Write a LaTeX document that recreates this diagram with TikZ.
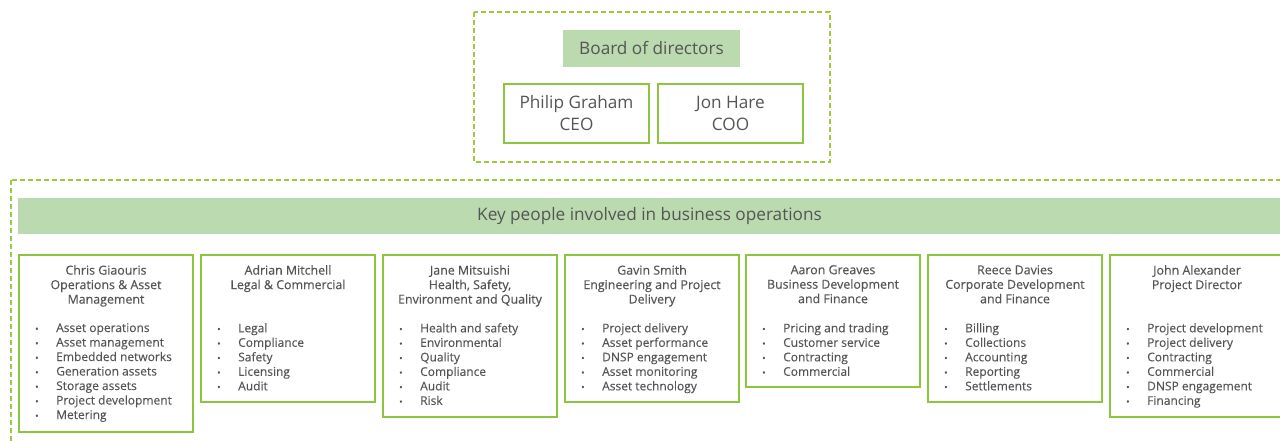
\documentclass[tikz,border=0pt]{standalone}
\usepackage{fontspec}
\setmainfont{Open Sans}
\newfontfamily\heavyfont[FakeBold=0.35]{Open Sans}
\newfontfamily\listfont[FakeBold=0.12]{Open Sans}
\usetikzlibrary{positioning}

\definecolor{leaf}{HTML}{8CC63F}
\definecolor{leafdash}{HTML}{9BCB3C}
\definecolor{pale}{HTML}{BBDAAF}
\definecolor{ink}{HTML}{555555}

\newcommand{\duty}{\makebox[21pt][l]{\small\textbullet}}

\tikzset{
  dashbox/.style={draw=leafdash, line width=1.5pt, dash pattern=on 5pt off 3pt},
  banner/.style={fill=pale, text=ink, inner sep=0pt, font=\fontsize{17.2}{20}\selectfont},
  headbox/.style={draw=leaf, line width=2pt, text=ink, align=center, minimum width=145pt,
    minimum height=59pt, inner sep=0pt, font=\fontsize{17.2}{22}\selectfont},
  personbox/.style={draw=leaf, line width=2pt, minimum width=174pt, anchor=north west, inner sep=0pt},
  title/.style={text=ink, align=center, anchor=north, inner sep=0pt, font=\heavyfont\fontsize{12.4}{14.5}\selectfont},
  duties/.style={text=ink, align=left, anchor=north west, inner sep=0pt, font=\listfont\fontsize{12}{14.5}\selectfont},
}

\begin{document}
\begin{tikzpicture}[x=1pt, y=1pt]
  \useasboundingbox (0,0) rectangle (1280,-441);
  %
  % board
  \draw[dashbox] (474,-12) rectangle (830,-162);
  \node[banner, minimum width=177pt, minimum height=37pt] (board) at (651.5,-48.5) {Board of directors};
  \node[headbox] (ceo) at (576.5,-113.5) {Philip Graham\\CEO};
  \node[headbox, right = 7pt of ceo] (coo) {Jon Hare\\COO};
  %
  % key people
  \draw[dashbox] (11,-180) rectangle (1300,-470);
  \node[banner, minimum width=1263pt, minimum height=36pt] (keypeople) at (649.5,-216) {Key people involved in business operations};
  %
  \node[personbox, minimum height=177pt] (p1) at (18,-254) {};
  \node[personbox, minimum height=147pt] (p2) at (200,-254) {};
  \node[personbox, minimum height=162pt] (p3) at (382,-254) {};
  \node[personbox, minimum height=147pt] (p4) at (564,-254) {};
  \node[personbox, minimum height=132pt] (p5) at (745,-254) {};
  \node[personbox, minimum height=147pt] (p6) at (927,-254) {};
  \node[personbox, minimum height=162pt] (p7) at (1109,-254) {};
  %
  \node[title] (t1) at ([yshift=-11pt]p1.north) {Chris Giaouris\\Operations \& Asset\\Management};
  \node[title] (t2) at ([yshift=-11pt]p2.north) {Adrian Mitchell\\Legal \& Commercial};
  \node[title] (t3) at ([yshift=-11pt]p3.north) {Jane Mitsuishi\\Health, Safety,\\Environment and Quality};
  \node[title] (t4) at ([yshift=-11pt]p4.north) {Gavin Smith\\Engineering and Project\\Delivery};
  \node[title] (t5) at ([yshift=-11pt]p5.north) {Aaron Greaves\\Business Development\\and Finance};
  \node[title] (t6) at ([yshift=-11pt]p6.north) {Reece Davies\\Corporate Development\\and Finance};
  \node[title] (t7) at ([yshift=-11pt]p7.north) {John Alexander\\Project Director};
  %
  \node[duties] (d1) at ([xshift=17pt, yshift=-69pt]p1.north west) {\duty Asset operations\\\duty Asset management\\\duty Embedded networks\\\duty Generation assets\\\duty Storage assets\\\duty Project development\\\duty Metering};
  \node[duties] (d2) at ([xshift=17pt, yshift=-69pt]p2.north west) {\duty Legal\\\duty Compliance\\\duty Safety\\\duty Licensing\\\duty Audit};
  \node[duties] (d3) at ([xshift=17pt, yshift=-69pt]p3.north west) {\duty Health and safety\\\duty Environmental\\\duty Quality\\\duty Compliance\\\duty Audit\\\duty Risk};
  \node[duties] (d4) at ([xshift=17pt, yshift=-69pt]p4.north west) {\duty Project delivery\\\duty Asset performance\\\duty DNSP engagement\\\duty Asset monitoring\\\duty Asset technology};
  \node[duties] (d5) at ([xshift=17pt, yshift=-69pt]p5.north west) {\duty Pricing and trading\\\duty Customer service\\\duty Contracting\\\duty Commercial};
  \node[duties] (d6) at ([xshift=17pt, yshift=-69pt]p6.north west) {\duty Billing\\\duty Collections\\\duty Accounting\\\duty Reporting\\\duty Settlements};
  \node[duties] (d7) at ([xshift=17pt, yshift=-69pt]p7.north west) {\duty Project development\\\duty Project delivery\\\duty Contracting\\\duty Commercial\\\duty DNSP engagement\\\duty Financing};
\end{tikzpicture}
\end{document}
